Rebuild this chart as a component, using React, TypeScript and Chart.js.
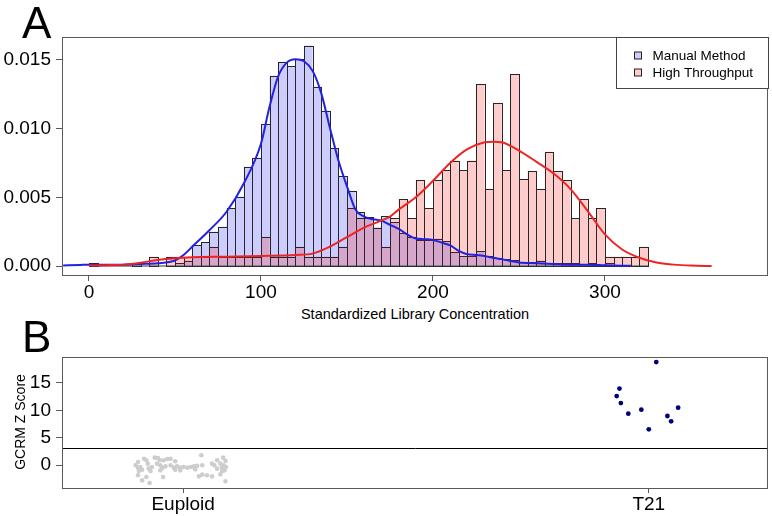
import React, { useEffect, useRef } from 'react';
import { Chart, registerables } from 'chart.js';

Chart.register(...registerables);

const FONT = "'Liberation Sans', Arial, Helvetica, sans-serif";

// ---------------- Panel A: histogram data ----------------
const BIN_WIDTH = 5;
const BIN_STARTS = [0, 5, 10, 15, 20, 25, 30, 35, 40, 45, 50, 55, 60, 65, 70, 75, 80, 85, 90, 95, 100, 105, 110, 115, 120, 125, 130, 135, 140, 145, 150, 155, 160, 165, 170, 175, 180, 185, 190, 195, 200, 205, 210, 215, 220, 225, 230, 235, 240, 245, 250, 255, 260, 265, 270, 275, 280, 285, 290, 295, 300, 305, 310, 315, 320];
const MANUAL_DENSITY = [0.0002, 0, 0, 0, 0, 0.0002, 0, 0, 0, 0, 0.0002, 0.0004, 0.00153, 0.00172, 0.0025, 0.00286, 0.0042, 0.00505, 0.00723, 0.00788, 0.0103, 0.01385, 0.01487, 0.01456, 0.01507, 0.01604, 0.01305, 0.0113, 0.00856, 0.00655, 0.00548, 0.0039, 0.00354, 0.0028, 0.00364, 0.0032, 0.0024, 0.00213, 0.0019, 0.0019, 0.002, 0.0018, 0.00104, 0.00073, 0.00073, 0.00109, 0.00073, 0.0006, 0.00048, 0.00041, 0.0003, 0.0003, 0.0004, 0.0002, 0.0002, 0.0002, 0.0002, 0, 0.0002, 0, 0.0002, 0, 0, 0, 0];
const HT_DENSITY = [0, 0, 0, 0, 0, 0, 0, 0.00068, 0, 0.00068, 0.00068, 0.00068, 0.00068, 0.00068, 0.0014, 0.00068, 0.00068, 0.00068, 0.00068, 0.00068, 0.0021, 0.00068, 0.00068, 0.00068, 0.0014, 0.00068, 0.00068, 0.00068, 0.00068, 0.0014, 0.0042, 0.00347, 0.00347, 0.0028, 0.0014, 0.00347, 0.00488, 0.00347, 0.00626, 0.0042, 0.00626, 0.00699, 0.00767, 0.00699, 0.00767, 0.01322, 0.00558, 0.01184, 0.00699, 0.01395, 0.00631, 0.00694, 0.00558, 0.00832, 0.00694, 0.00626, 0.00347, 0.00488, 0.00347, 0.0042, 0.00068, 0.00068, 0.00068, 0.00068, 0.0014];

const MANUAL_CURVE_X = [-15, -5, 0, 10, 20, 30, 40, 50, 55, 60, 70, 80, 90, 100, 105, 110, 115, 120, 125, 130, 135, 140, 145, 150, 155, 160, 165, 170, 175, 180, 185, 190, 195, 200, 205, 210, 215, 220, 225, 230, 235, 240, 245, 250, 260, 270, 280, 290, 300, 315];
const MANUAL_CURVE_Y = [0.00003, 0.00008, 0.0001, 0.0001, 0.0001, 0.00015, 0.0002, 0.0004, 0.0008, 0.0014, 0.0026, 0.00395, 0.006, 0.0089, 0.0116, 0.0138, 0.0148, 0.01505, 0.0149, 0.0142, 0.0126, 0.0101, 0.0077, 0.0058, 0.0041, 0.0036, 0.0034, 0.0033, 0.003, 0.0027, 0.0023, 0.002, 0.00195, 0.0019, 0.0017, 0.0015, 0.0011, 0.00085, 0.0008, 0.00073, 0.0006, 0.0005, 0.00036, 0.00026, 0.0002, 0.00015, 0.0001, 0.0001, 0.00006, 0.00001];
const HT_CURVE_X = [0, 10, 20, 30, 40, 50, 60, 80, 100, 120, 130, 140, 150, 160, 170, 175, 180, 190, 200, 210, 220, 230, 235, 240, 250, 260, 270, 280, 290, 300, 310, 320, 330, 340, 350, 362];
const HT_CURVE_Y = [0.00003, 0.00006, 0.0001, 0.00024, 0.00044, 0.00056, 0.00063, 0.00068, 0.00073, 0.0008, 0.0009, 0.0014, 0.0021, 0.0028, 0.0033, 0.0036, 0.0041, 0.005, 0.0062, 0.0075, 0.0085, 0.009, 0.00905, 0.009, 0.0084, 0.0076, 0.00675, 0.0056, 0.004, 0.0023, 0.0012, 0.0006, 0.00025, 0.0001, 0.00003, 0];

const SERIES_LABELS = ['Manual Method', 'High Throughput'];
const A_X_TICKS = [0, 100, 200, 300];
const A_Y_TICKS = [0, 0.005, 0.01, 0.015];
const A_X_MIN = -15.1;
const A_X_MAX = 394.8;
const A_Y_MIN = -0.000655;
const A_Y_MAX = 0.016667;
const A_X_TITLE = 'Standardized Library Concentration';

// ---------------- Panel B: strip chart data ----------------
const GROUPS = ['Euploid', 'T21'];
const EUPLOID_X = [0.903, 0.916, 0.921, 0.924, 0.939, 0.946, 0.95, 0.958, 0.966, 0.973, 0.983, 1.039, 1.073, 1.086, 1.091, 0.898, 0.903, 0.908, 0.926, 0.933, 0.944, 0.951, 0.955, 0.962, 0.973, 0.98, 0.987, 0.993, 1.001, 1.009, 1.017, 1.023, 1.03, 1.041, 1.062, 1.067, 1.08, 1.087, 1.092, 1.083, 0.905, 0.912, 0.93, 0.951, 0.983, 0.994, 1.026, 1.073, 1.084, 1.089, 0.903, 0.921, 0.957, 1.034, 1.041, 1.051, 1.062, 1.08, 0.912, 0.928, 1.091];
const EUPLOID_Z = [0.55, 1.16, 0.86, 0.25, 1.35, 1.29, 0.86, 0.86, 1.1, 1.16, 0.68, 1.8, 0.86, 1.35, 0.74, -0.05, -0.48, -0.36, -0.66, -0.36, 0.25, -0.05, -0.54, -0.24, -0.05, -0.48, -0.24, -0.48, -0.36, -0.48, -0.36, -0.24, -0.12, -0.05, 0.25, -0.05, 0.25, -0.05, -0.36, -0.48, -1.09, -0.85, -1.09, -0.97, -0.85, -0.97, -0.79, -0.66, -1.09, -0.97, -1.88, -2.19, -2.19, -2.07, -1.76, -1.88, -2.07, -1.7, -2.8, -3.29, -2.98];
const T21_X = [2.016, 1.937, 1.931, 1.94, 1.956, 1.984, 2.0, 2.04, 2.048, 2.063];
const T21_Z = [18.83, 13.97, 12.61, 11.33, 9.39, 10.12, 6.53, 8.96, 7.99, 10.49];
const B_Y_TICKS = [0, 5, 10, 15];
const B_X_TICKS = [1, 2];
const B_X_MIN = 0.742;
const B_X_MAX = 2.256;
const B_Y_MIN = -4.2;
const B_Y_MAX = 19.75;
const THRESHOLD = 3;
const B_Y_TITLE = 'GCRM Z Score';

const BLUE_FILL = 'rgba(0,0,255,0.2)';
const RED_FILL = 'rgba(255,0,0,0.2)';

const framePlugin = {
  id: 'frame',
  afterDatasetsDraw(chart: any) {
    const { ctx, chartArea } = chart;
    const { left, top, right, bottom } = chartArea;
    ctx.save();
    ctx.strokeStyle = '#5a5a5a';
    ctx.lineWidth = 1;
    ctx.strokeRect(Math.round(left) - 0.5, Math.round(top) + 0.5, Math.round(right - left), Math.round(bottom - top));
    ctx.restore();
  },
};

// crisp 1px outlines around every histogram bar (shared edges like R's hist)
const barOutlinePlugin = {
  id: 'barOutline',
  afterDatasetDraw(chart: any, args: any) {
    const meta = args.meta;
    if (meta.type !== 'bar') return;
    const { ctx } = chart;
    ctx.save();
    ctx.strokeStyle = '#262626';
    ctx.lineWidth = 1;
    meta.data.forEach((el: any) => {
      const { x, y, base, width } = el.getProps(['x', 'y', 'base', 'width'], true);
      const l = Math.round(x - width / 2) + 0.5;
      const r = Math.round(x + width / 2) + 0.5;
      const t = Math.round(y) + 0.5;
      const b = Math.round(base) + 0.5;
      ctx.strokeRect(l, t, r - l, b - t);
    });
    ctx.restore();
  },
};

const legendPlugin = {
  id: 'boxLegend',
  afterDraw(chart: any) {
    const { ctx, chartArea } = chart;
    const w = 152;
    const h = 51;
    const x0 = Math.round(chartArea.right - w) + 0.5;
    const y0 = Math.round(chartArea.top) + 0.5;
    ctx.save();
    ctx.fillStyle = '#fff';
    ctx.fillRect(x0, y0, w, h);
    ctx.strokeStyle = '#444';
    ctx.lineWidth = 1;
    ctx.strokeRect(x0, y0, w, h);
    const fills = [BLUE_FILL, RED_FILL];
    SERIES_LABELS.forEach((label, i) => {
      const cy = y0 + 18 + i * 17;
      ctx.fillStyle = '#fff';
      ctx.fillRect(x0 + 18, cy - 3.5, 7, 7);
      ctx.fillStyle = fills[i];
      ctx.fillRect(x0 + 18, cy - 3.5, 7, 7);
      ctx.strokeStyle = '#222';
      ctx.strokeRect(x0 + 18, cy - 3.5, 7, 7);
      ctx.fillStyle = '#000';
      ctx.font = `13.5px ${FONT}`;
      ctx.textBaseline = 'middle';
      ctx.textAlign = 'left';
      ctx.fillText(label, x0 + 36, cy + 0.5);
    });
    ctx.restore();
  },
};

const thresholdPlugin = {
  id: 'threshold',
  beforeDatasetsDraw(chart: any) {
    const { ctx, chartArea, scales } = chart;
    const y = Math.round(scales.y.getPixelForValue(THRESHOLD)) - 0.5;
    ctx.save();
    ctx.strokeStyle = '#000';
    ctx.lineWidth = 1;
    ctx.beginPath();
    ctx.moveTo(chartArea.left, y);
    ctx.lineTo(chartArea.right, y);
    ctx.stroke();
    ctx.restore();
  },
};

function histPoints(values: number[]) {
  return BIN_STARTS.map((s, i) => ({ x: s + BIN_WIDTH / 2, y: values[i] })).filter((p) => p.y > 0);
}

function curvePoints(xs: number[], ys: number[]) {
  return xs.map((x, i) => ({ x, y: ys[i] }));
}

const tickFont = { family: FONT, size: 19 };

function PanelA() {
  const ref = useRef<HTMLCanvasElement>(null);
  useEffect(() => {
    if (!ref.current) return;
    const barCommon = {
      type: 'bar' as const,
      borderWidth: 0,
      inflateAmount: 0,
      grouped: false,
      barPercentage: 1,
      categoryPercentage: 1,
    };
    const chart = new Chart(ref.current, {
      type: 'bar',
      data: {
        datasets: [
          {
            type: 'line',
            label: 'High Throughput density',
            data: curvePoints(HT_CURVE_X, HT_CURVE_Y),
            borderColor: 'rgb(236,36,36)',
            borderWidth: 2,
            pointRadius: 0,
            cubicInterpolationMode: 'monotone',
            order: 0,
          } as any,
          {
            type: 'line',
            label: 'Manual Method density',
            data: curvePoints(MANUAL_CURVE_X, MANUAL_CURVE_Y),
            borderColor: 'rgb(34,34,222)',
            borderWidth: 2,
            pointRadius: 0,
            cubicInterpolationMode: 'monotone',
            order: 1,
          } as any,
          {
            type: 'line',
            label: 'baseline',
            data: [
              { x: BIN_STARTS[0], y: 0 },
              { x: BIN_STARTS[BIN_STARTS.length - 1] + BIN_WIDTH, y: 0 },
            ],
            borderColor: '#333',
            borderWidth: 1,
            pointRadius: 0,
            order: 2,
          } as any,
          {
            ...barCommon,
            label: SERIES_LABELS[1],
            data: histPoints(HT_DENSITY),
            backgroundColor: RED_FILL,
            order: 3,
          } as any,
          {
            ...barCommon,
            label: SERIES_LABELS[0],
            data: histPoints(MANUAL_DENSITY),
            backgroundColor: BLUE_FILL,
            order: 4,
          } as any,
        ],
      },
      options: {
        responsive: false,
        animation: false,
        layout: { padding: { top: 37, right: 4, left: 0, bottom: 0 } },
        plugins: { legend: { display: false }, tooltip: { enabled: false } },
        scales: {
          x: {
            type: 'linear',
            min: A_X_MIN,
            max: A_X_MAX,
            offset: false,
            afterBuildTicks: (s: any) => {
              s.ticks = A_X_TICKS.map((v) => ({ value: v }));
            },
            afterFit: (s: any) => {
              s.height = 25;
            },
            ticks: {
              font: tickFont,
              color: '#000',
              padding: 0,
              maxRotation: 0,
              autoSkip: false,
              callback: (v: any) => String(v),
            },
            grid: { offset: false, drawOnChartArea: false, drawTicks: true, tickLength: 6, color: '#5a5a5a' },
            border: { display: false },
          },
          y: {
            type: 'linear',
            min: A_Y_MIN,
            max: A_Y_MAX,
            afterBuildTicks: (s: any) => {
              s.ticks = A_Y_TICKS.map((v) => ({ value: v }));
            },
            afterFit: (s: any) => {
              s.width = 63;
            },
            ticks: {
              font: tickFont,
              color: '#000',
              padding: 5,
              autoSkip: false,
              callback: (v: any) => Number(v).toFixed(3),
            },
            grid: { drawOnChartArea: false, drawTicks: true, tickLength: 7, color: '#5a5a5a' },
            border: { display: false },
          },
        },
      } as any,
      plugins: [barOutlinePlugin, framePlugin, legendPlugin],
    });
    return () => chart.destroy();
  }, []);
  return <canvas ref={ref} width={772} height={300} style={{ position: 'absolute', left: 0, top: 0, width: 772, height: 300 }} />;
}

function PanelB() {
  const ref = useRef<HTMLCanvasElement>(null);
  useEffect(() => {
    if (!ref.current) return;
    const chart = new Chart(ref.current, {
      type: 'scatter',
      data: {
        datasets: [
          {
            label: GROUPS[1],
            data: curvePoints(T21_X, T21_Z),
            backgroundColor: '#00007a',
            borderWidth: 0,
            pointRadius: 2.4,
            order: 0,
          },
          {
            label: GROUPS[0],
            data: curvePoints(EUPLOID_X, EUPLOID_Z),
            backgroundColor: '#cdcdcd',
            borderWidth: 0,
            pointRadius: 2.3,
            order: 1,
          },
        ],
      },
      options: {
        responsive: false,
        animation: false,
        layout: { padding: { top: 27, right: 4, left: 0, bottom: 0 } },
        plugins: { legend: { display: false }, tooltip: { enabled: false } },
        scales: {
          x: {
            type: 'linear',
            min: B_X_MIN,
            max: B_X_MAX,
            afterBuildTicks: (s: any) => {
              s.ticks = B_X_TICKS.map((v) => ({ value: v }));
            },
            afterFit: (s: any) => {
              s.height = 28;
            },
            ticks: {
              font: tickFont,
              color: '#000',
              padding: 0,
              maxRotation: 0,
              autoSkip: false,
              callback: (v: any) => GROUPS[Math.round(Number(v)) - 1],
            },
            grid: { offset: false, drawOnChartArea: false, drawTicks: true, tickLength: 5, color: '#5a5a5a' },
            border: { display: false },
          },
          y: {
            type: 'linear',
            min: B_Y_MIN,
            max: B_Y_MAX,
            afterBuildTicks: (s: any) => {
              s.ticks = B_Y_TICKS.map((v) => ({ value: v }));
            },
            afterFit: (s: any) => {
              s.width = 63;
            },
            ticks: {
              font: tickFont,
              color: '#000',
              padding: 5,
              autoSkip: false,
              callback: (v: any) => String(v),
            },
            grid: { drawOnChartArea: false, drawTicks: true, tickLength: 7, color: '#5a5a5a' },
            border: { display: false },
          },
        },
      } as any,
      plugins: [framePlugin, thresholdPlugin],
    });
    return () => chart.destroy();
  }, []);
  return <canvas ref={ref} width={772} height={186} style={{ position: 'absolute', left: 0, top: 330, width: 772, height: 186 }} />;
}

export default function App() {
  const txt = { position: 'absolute' as const, fontFamily: FONT, lineHeight: 1, color: '#000', whiteSpace: 'nowrap' as const };
  return (
    <div style={{ position: 'absolute', left: 0, top: 0, width: 772, height: 516, background: '#fff', overflow: 'hidden' }}>
      <PanelA />
      <PanelB />
      <div style={{ ...txt, left: 22, top: 1, fontSize: 44 }}>A</div>
      <div style={{ ...txt, left: 22, top: 315, fontSize: 44 }}>B</div>
      <div style={{ ...txt, left: 215, width: 400, top: 307, fontSize: 14.5, textAlign: 'center' }}>{A_X_TITLE}</div>
      <div style={{ ...txt, left: 20, top: 422, fontSize: 14, transform: 'translate(-50%, -50%) rotate(-90deg)' }}>{B_Y_TITLE}</div>
    </div>
  );
}
